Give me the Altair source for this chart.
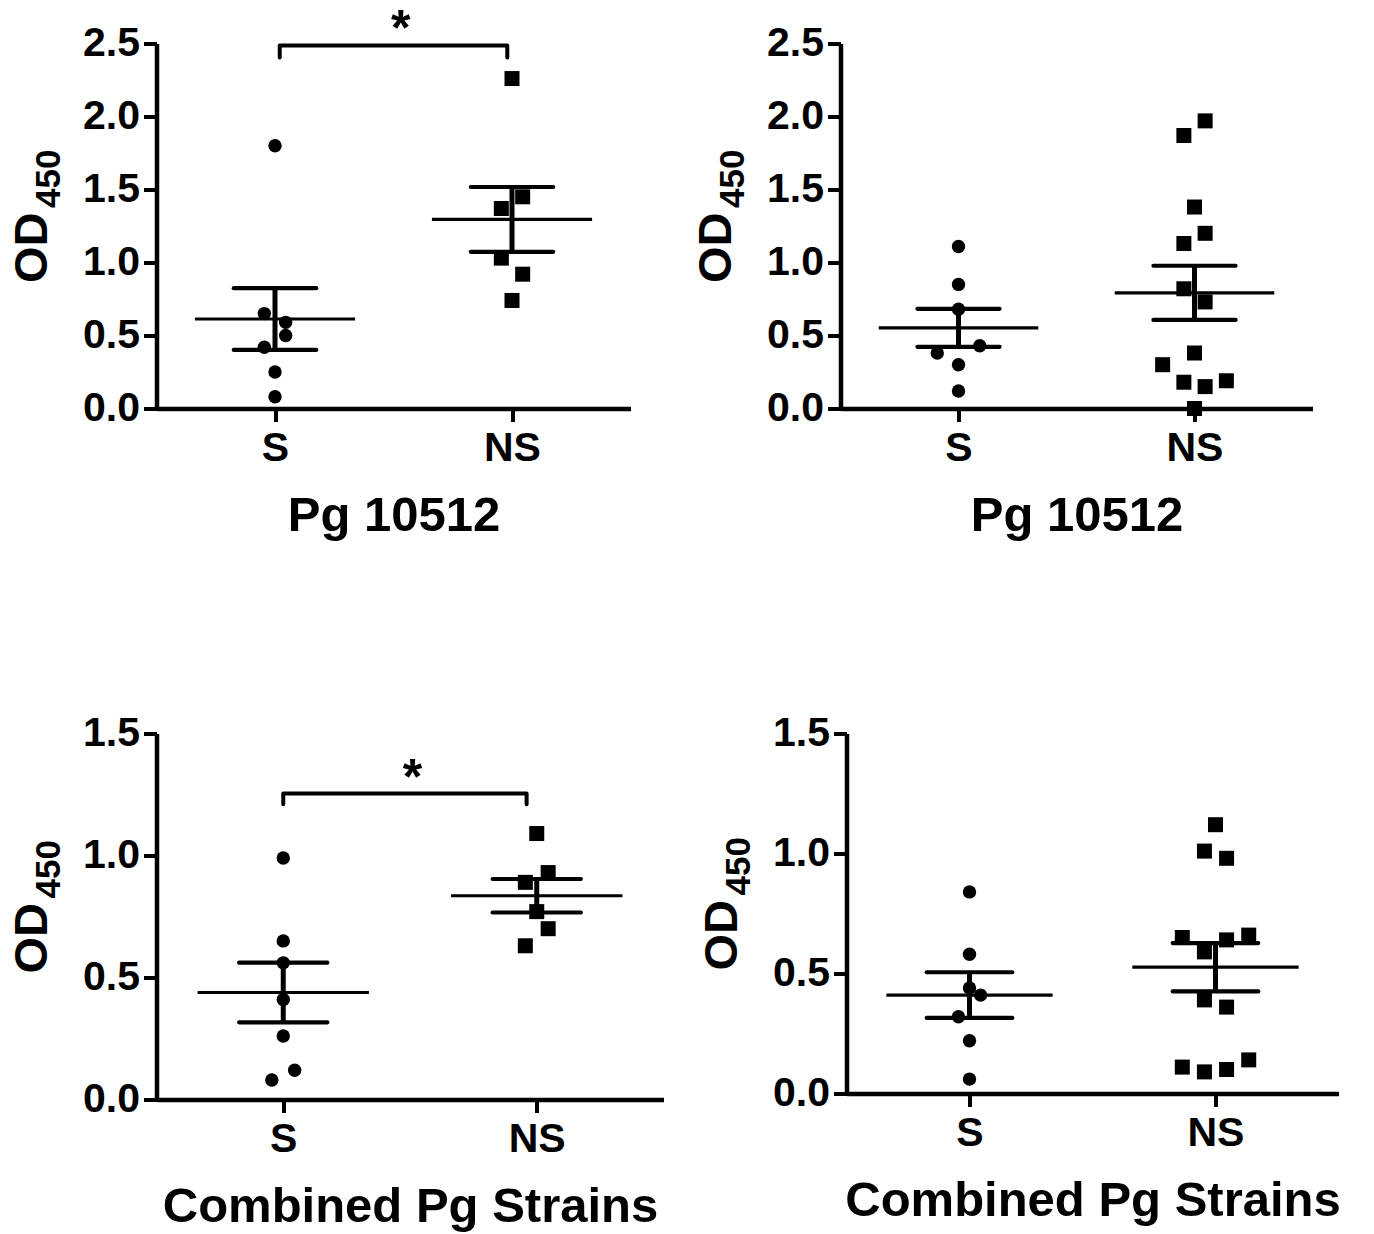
import altair as alt
import numpy as np
import pandas as pd

FONT = "Liberation Sans"
groups = ["S", "NS"]

# Panel A (top-left): Pg 10512
a_s = [1.80, 0.65, 0.59, 0.50, 0.42, 0.25, 0.08]
a_s_jit = [0, -1, 1, 1, -1, 0, 0]
a_ns = [2.26, 1.45, 1.37, 1.03, 0.92, 0.74]
a_ns_jit = [0, 1, -1, -1, 1, 0]

# Panel B (top-right): Pg 10512
b_s = [1.11, 0.85, 0.68, 0.43, 0.38, 0.30, 0.12]
b_s_jit = [0, 0, 0, 2, -2, 0, 0]
b_ns = [1.97, 1.87, 1.38, 1.20, 1.13, 0.82, 0.73, 0.38, 0.30, 0.18, 0.15, 0.19, 0.00]
b_ns_jit = [1, -1, 0, 1, -1, -1, 1, 0, -3, -1, 1, 3, 0]

# Panel C (bottom-left): Combined Pg Strains
c_s = [0.99, 0.65, 0.56, 0.41, 0.26, 0.12, 0.08]
c_s_jit = [0, 0, 0, 0, 0, 1, -1]
c_ns = [1.09, 0.93, 0.89, 0.77, 0.70, 0.63]
c_ns_jit = [0, 1, -1, 0, 1, -1]

# Panel D (bottom-right): Combined Pg Strains
d_s = [0.84, 0.58, 0.44, 0.41, 0.32, 0.22, 0.06]
d_s_jit = [0, 0, 0, 1, -1, 0, 0]
d_ns = [1.12, 1.01, 0.98, 0.65, 0.64, 0.66, 0.59, 0.39, 0.36, 0.11, 0.09, 0.10, 0.14]
d_ns_jit = [0, -1, 1, -3, 1, 3, -1, -1, 1, -3, -1, 1, 3]

ticks_top = [0.0, 0.5, 1.0, 1.5, 2.0, 2.5]
ticks_bottom = [0.0, 0.5, 1.0, 1.5]

# significance brackets: [x_left, x_right, y_top, y_drop, y_star]
a_bracket = [1.02, 1.98, 2.486, 2.404, 2.493]
c_bracket = [1.00, 1.96, 1.254, 1.210, 1.252]

y_title_main = "OD"
y_title_sub = "450"

JIT = 0.045
MEAN_HW = 0.338
CAP_HW = 0.174


def panel(s_vals, s_jit, ns_vals, ns_jit, ticks, xtitle, width, height, bracket=None):
    ymax = ticks[-1]
    pts_s = pd.DataFrame({"x": [1 + j * JIT for j in s_jit], "y": s_vals})
    pts_ns = pd.DataFrame({"x": [2 + j * JIT for j in ns_jit], "y": ns_vals})

    rows_mean, rows_cap, rows_vert = [], [], []
    for gi, vals in ((1, s_vals), (2, ns_vals)):
        v = np.array(vals)
        m = v.mean()
        se = v.std(ddof=1) / np.sqrt(len(v))
        rows_mean.append({"x": gi - MEAN_HW, "x2": gi + MEAN_HW, "y": m})
        rows_cap.append({"x": gi - CAP_HW, "x2": gi + CAP_HW, "y": m + se})
        rows_cap.append({"x": gi - CAP_HW, "x2": gi + CAP_HW, "y": m - se})
        rows_vert.append({"x": gi, "y": m - se, "y2": m + se})

    xaxis = alt.Axis(
        title=xtitle, values=[1, 2],
        labelExpr="datum.value == 1 ? 'S' : 'NS'",
        grid=False, tickSize=13, tickWidth=4, tickColor="black",
        domainWidth=4.5, domainColor="black",
        labelFont=FONT, labelFontSize=41, labelFontWeight="bold", labelColor="black",
        labelPadding=7, labelFlush=False, labelOverlap=False,
        titleFont=FONT, titleFontSize=49, titleFontWeight="bold", titleColor="black",
        titlePadding=23,
    )
    yaxis = alt.Axis(
        title=None, values=ticks, format=".1f",
        grid=False, tickSize=13, tickWidth=4, tickColor="black",
        domainWidth=4.5, domainColor="black",
        labelFont=FONT, labelFontSize=41, labelFontWeight="bold", labelColor="black",
        labelPadding=4, labelFlush=False, labelOverlap=False,
    )
    xs = alt.Scale(domain=[0.5, 2.5], nice=False, zero=False)
    ys = alt.Scale(domain=[0, ymax], nice=False, zero=False)
    X = alt.X("x:Q", scale=xs, axis=xaxis)
    Y = alt.Y("y:Q", scale=ys, axis=yaxis)

    circles = alt.Chart(pts_s).mark_circle(size=180, color="black", opacity=1).encode(x=X, y=Y)
    squares = alt.Chart(pts_ns).mark_square(size=225, color="black", opacity=1).encode(x=X, y=Y)
    mean_l = alt.Chart(pd.DataFrame(rows_mean)).mark_rule(color="black", strokeWidth=3.2).encode(
        x=X, x2="x2:Q", y=Y)
    caps = alt.Chart(pd.DataFrame(rows_cap)).mark_rule(color="black", strokeWidth=4.2, strokeCap="round").encode(
        x=X, x2="x2:Q", y=Y)
    vert = alt.Chart(pd.DataFrame(rows_vert)).mark_rule(color="black", strokeWidth=5).encode(
        x=X, y=Y, y2="y2:Q")

    # y-axis title with a real subscript
    od = alt.Chart(pd.DataFrame({"t": [y_title_main]})).mark_text(
        angle=270, align="left", baseline="alphabetic", font=FONT, fontSize=47,
        fontWeight="bold", color="black").encode(
        x=alt.value(-109.5), y=alt.value(height / 2 + 57), text="t:N")
    sub = alt.Chart(pd.DataFrame({"t": [y_title_sub]})).mark_text(
        angle=270, align="left", baseline="alphabetic", font=FONT, fontSize=35,
        fontWeight="bold", color="black").encode(
        x=alt.value(-96.5), y=alt.value(height / 2 - 18), text="t:N")

    layers = [circles, squares, vert, caps, mean_l, od, sub]

    if bracket is not None:
        xl, xr, yt, yd, ystar = bracket
        bdf = pd.DataFrame({"x": [xl, xl, xr, xr], "y": [yd, yt, yt, yd], "o": [0, 1, 2, 3]})
        br = alt.Chart(bdf).mark_line(color="black", strokeWidth=4, strokeCap="round",
                                      strokeJoin="round").encode(x=X, y=Y, order="o:Q")
        sdf = pd.DataFrame({"x": [(xl + xr) / 2 + 0.03], "y": [ystar], "t": ["*"]})
        star = alt.Chart(sdf).mark_text(font=FONT, fontSize=50, fontWeight="bold", color="black",
                                        baseline="alphabetic").encode(x=X, y=Y, text="t:N")
        layers += [br, star]

    return alt.layer(*layers).properties(width=width, height=height)


pA = panel(a_s, a_s_jit, a_ns, a_ns_jit, ticks_top, "Pg 10512", 474, 365, a_bracket)
pB = panel(b_s, b_s_jit, b_ns, b_ns_jit, ticks_top, "Pg 10512", 472, 365)
pC = panel(c_s, c_s_jit, c_ns, c_ns_jit, ticks_bottom, "Combined Pg Strains", 507, 366, c_bracket)
pD = panel(d_s, d_s_jit, d_ns, d_ns_jit, ticks_bottom, "Combined Pg Strains", 492, 360)

row1 = alt.hconcat(pA, pB, spacing=62)
row2 = alt.hconcat(pC, pD, spacing=35)
chart = alt.vconcat(row1, row2, spacing=172).properties(
    padding={"left": 8.5, "top": 4.5, "right": 5, "bottom": 5}
).configure(font=FONT, background="white").configure_view(stroke="transparent", strokeWidth=0)

chart.save("out.html", embed_options={"renderer": "svg", "actions": False})
